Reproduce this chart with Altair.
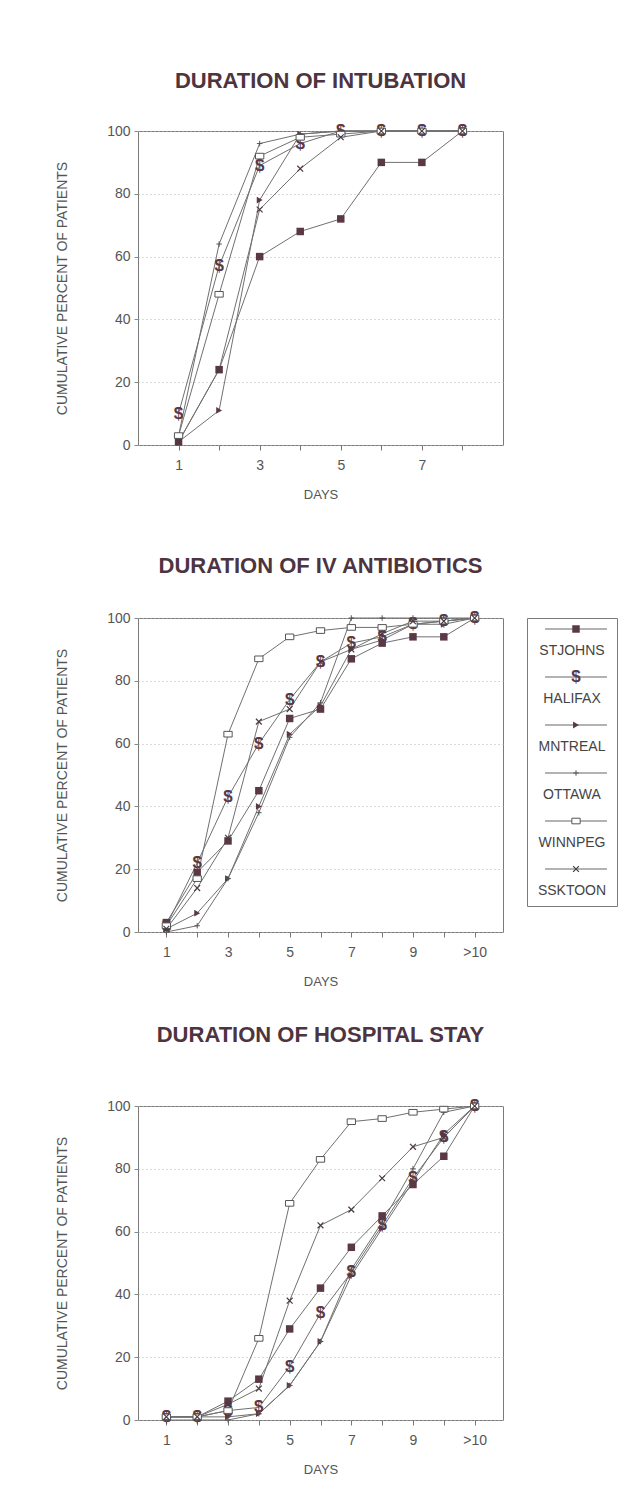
import altair as alt
import pandas as pd

# ---------------- data ----------------
SERIES = ["STJOHNS", "HALIFAX", "MNTREAL", "OTTAWA", "WINNPEG", "SSKTOON"]

# Panel 1: duration of intubation (days 1..8)
INTUB_DAYS = ["1", "2", "3", "4", "5", "6", "7", "8"]
INTUB_LABELED = ["1", "3", "5", "7"]
INTUB_STJOHNS = [1, 24, 60, 68, 72, 90, 90, 100]
INTUB_HALIFAX = [10, 57, 89, 96, 100, 100, 100, 100]
INTUB_MNTREAL = [1, 11, 78, 99, 100, 100, 100, 100]
INTUB_OTTAWA = [3, 64, 96, 99, 100, 100, 100, 100]
INTUB_WINNPEG = [3, 48, 92, 98, 99, 100, 100, 100]
INTUB_SSKTOON = [1, 24, 75, 88, 98, 100, 100, 100]

# Panel 2: duration of IV antibiotics (days 1..10, >10)
ABX_DAYS = ["1", "2", "3", "4", "5", "6", "7", "8", "9", "10", ">10"]
ABX_LABELED = ["1", "3", "5", "7", "9", ">10"]
ABX_STJOHNS = [3, 19, 29, 45, 68, 71, 87, 92, 94, 94, 100]
ABX_HALIFAX = [2, 22, 43, 60, 74, 86, 92, 94, 98, 99, 100]
ABX_MNTREAL = [1, 6, 17, 40, 63, 72, 90, 93, 98, 98, 100]
ABX_OTTAWA = [0, 2, 17, 38, 62, 73, 100, 100, 100, 100, 100]
ABX_WINNPEG = [2, 17, 63, 87, 94, 96, 97, 97, 98, 99, 100]
ABX_SSKTOON = [1, 14, 30, 67, 71, 86, 90, 95, 99, 99, 100]

# Panel 3: duration of hospital stay (days 1..10, >10)
STAY_DAYS = ["1", "2", "3", "4", "5", "6", "7", "8", "9", "10", ">10"]
STAY_LABELED = ["1", "3", "5", "7", "9", ">10"]
STAY_STJOHNS = [1, 1, 6, 13, 29, 42, 55, 65, 75, 84, 100]
STAY_HALIFAX = [1, 1, 3, 4, 17, 34, 47, 62, 77, 90, 100]
STAY_MNTREAL = [1, 1, 1, 2, 11, 25, 46, 61, 76, 91, 100]
STAY_OTTAWA = [0, 0, 0, 2, 11, 25, 48, 63, 80, 98, 100]
STAY_WINNPEG = [1, 1, 3, 26, 69, 83, 95, 96, 98, 99, 100]
STAY_SSKTOON = [1, 1, 5, 10, 38, 62, 67, 77, 87, 90, 100]

FONT = "Liberation Sans"
MAROON = "#5a3845"
LINE = "#707070"
TITLE_COLOR = "#4d3440"
TEXT_GRAY = "#555555"


def long_df(days, series_values):
    rows = []
    for s, vals in zip(SERIES, series_values):
        for i, (d, v) in enumerate(zip(days, vals)):
            rows.append({"series": s, "day": d, "idx": i, "pct": v})
    return pd.DataFrame(rows)


PLUS = "M0,-1L0,1M-1,0L1,0"
XMARK = "M-1,-1L1,1M-1,1L1,-1"
RECT = "M-1.25,-0.85L1.25,-0.85L1.25,0.85L-1.25,0.85Z"


def marker_layers(base, x, y, y_offset=0):
    """One layer of symbols per series."""
    flt = lambda s: base.transform_filter(alt.datum.series == s)
    return [
        flt("STJOHNS").mark_point(shape="square", filled=True, color=MAROON, fill=MAROON,
                                  strokeWidth=0, size=56, opacity=1,
                                  yOffset=y_offset).encode(x=x, y=y),
        flt("HALIFAX").mark_text(text="$", font=FONT, fontSize=17, fontWeight="bold",
                                 color=MAROON, fill=MAROON, baseline="middle", align="center",
                                 yOffset=y_offset).encode(x=x, y=y),
        flt("MNTREAL").mark_point(shape="triangle-right", filled=True, color=MAROON, fill=MAROON,
                                  strokeWidth=0, size=46, opacity=1,
                                  yOffset=y_offset).encode(x=x, y=y),
        flt("OTTAWA").mark_point(shape=PLUS, filled=False, color="#555555", stroke="#555555",
                                 strokeWidth=1, size=30, opacity=1,
                                 yOffset=y_offset).encode(x=x, y=y),
        flt("WINNPEG").mark_point(shape=RECT, filled=True, fill="white", stroke="#555555",
                                  strokeWidth=1, size=44, opacity=1,
                                  yOffset=y_offset).encode(x=x, y=y),
        flt("SSKTOON").mark_point(shape=XMARK, filled=False, color="#4a3a42", stroke="#4a3a42",
                                  strokeWidth=1.2, size=34, opacity=1,
                                  yOffset=y_offset).encode(x=x, y=y),
    ]


def panel(days, labeled, values, title, title_offset, padding):
    df = long_df(days, values)
    label_list = ",".join("'" + d + "'" for d in labeled)
    x = alt.X("day:O",
              scale=alt.Scale(type="point", domain=days, padding=padding),
              sort=days,
              axis=alt.Axis(labelAngle=0, domain=False, grid=False, tickSize=5,
                            tickColor="#777777", labelFontSize=14, labelColor=TEXT_GRAY,
                            labelPadding=8, labelFont=FONT,
                            labelExpr="indexof([" + label_list + "], datum.value) >= 0 ? datum.label : ''",
                            title="DAYS", titleFontSize=13, titleFontWeight="normal",
                            titleColor=TEXT_GRAY, titlePadding=16, titleFont=FONT))
    y = alt.Y("pct:Q",
              scale=alt.Scale(domain=[0, 100], nice=False),
              axis=alt.Axis(values=[0, 20, 40, 60, 80, 100], grid=True, gridColor="#b5b5b5",
                            gridDash=[1, 3], domain=False, tickSize=4, tickColor="#888888",
                            labelFontSize=14, labelColor=TEXT_GRAY, labelPadding=4,
                            labelFont=FONT,
                            title="CUMULATIVE PERCENT OF PATIENTS", titleFontSize=14,
                            titleFontWeight="normal", titleColor=TEXT_GRAY, titlePadding=37,
                            titleFont=FONT))
    base = alt.Chart(df)
    lines = base.mark_line(color=LINE, strokeWidth=1).encode(
        x=x, y=y, detail="series:N", order=alt.Order("idx:Q"))
    layers = [lines] + marker_layers(base, x, y)
    return alt.layer(*layers).properties(
        width=365, height=314,
        title=alt.TitleParams(title, fontSize=22, fontWeight="bold", color=TITLE_COLOR,
                              font=FONT, offset=title_offset, anchor="middle", frame="group"))


def legend_chart(title_offset):
    df = pd.DataFrame({"series": SERIES})
    y = alt.Y("series:N", scale=alt.Scale(type="band", domain=SERIES, paddingInner=0,
                                          paddingOuter=0), axis=None)
    base = alt.Chart(df)
    rule = base.mark_rule(color="#666666", strokeWidth=1, yOffset=-13).encode(
        y=y, x=alt.value(18), x2=alt.value(80))
    text = base.mark_text(font=FONT, fontSize=14, color="#444444", baseline="middle",
                          align="center", yOffset=9).encode(y=y, x=alt.value(45), text="series:N")
    layers = [rule] + marker_layers(base, alt.value(49), y, y_offset=-13) + [text]
    return alt.layer(*layers).properties(
        width=90, height=288,
        title=alt.TitleParams(" ", fontSize=22, fontWeight="bold", font=FONT,
                              offset=title_offset))


p1 = panel(INTUB_DAYS, INTUB_LABELED,
           [INTUB_STJOHNS, INTUB_HALIFAX, INTUB_MNTREAL, INTUB_OTTAWA, INTUB_WINNPEG, INTUB_SSKTOON],
           "DURATION OF INTUBATION", 29, 1.0)
p2 = panel(ABX_DAYS, ABX_LABELED,
           [ABX_STJOHNS, ABX_HALIFAX, ABX_MNTREAL, ABX_OTTAWA, ABX_WINNPEG, ABX_SSKTOON],
           "DURATION OF IV ANTIBIOTICS", 31, 0.92)
p3 = panel(STAY_DAYS, STAY_LABELED,
           [STAY_STJOHNS, STAY_HALIFAX, STAY_MNTREAL, STAY_OTTAWA, STAY_WINNPEG, STAY_SSKTOON],
           "DURATION OF HOSPITAL STAY", 50, 0.92)

row2 = alt.hconcat(p2, legend_chart(31), spacing=22)
upper = alt.vconcat(p1, row2, spacing=52)
chart = alt.vconcat(upper, p3, spacing=34).properties(
    padding={"left": 47, "top": 61, "right": 5, "bottom": 5},
    background="white",
).configure_view(stroke="#7a7a7a", strokeWidth=1)

chart.save("out.html", embed_options={"renderer": "svg", "actions": False})
